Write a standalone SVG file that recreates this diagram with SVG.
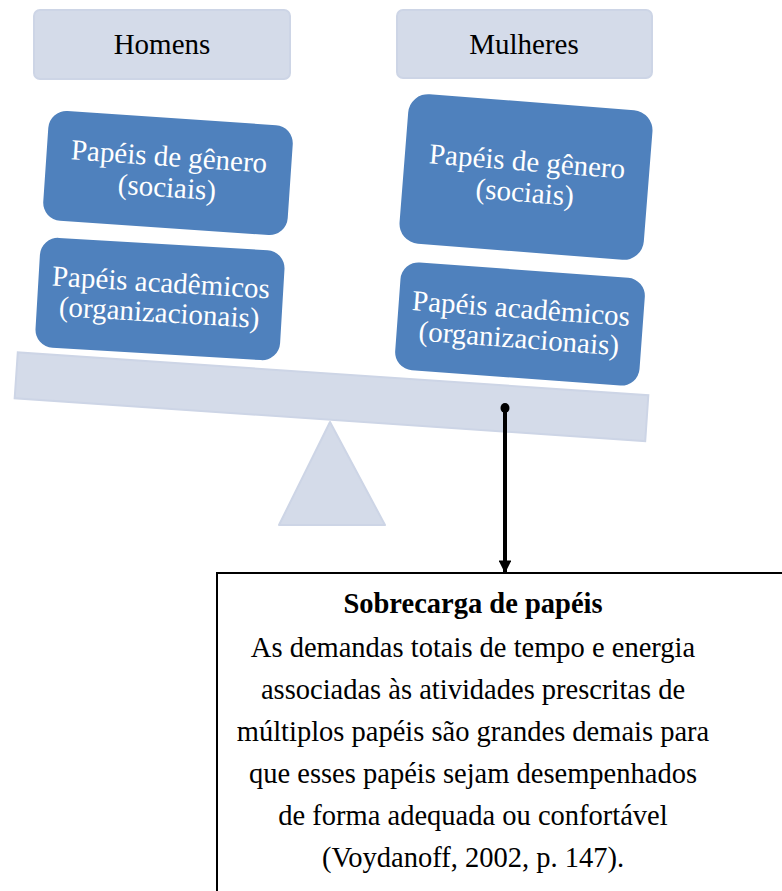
<svg xmlns="http://www.w3.org/2000/svg" width="782" height="891" viewBox="0 0 782 891">
<defs>
<style>
.light{fill:#d4dbe9;stroke:#cdd5e6;stroke-width:2}
.blue{fill:#4f81bd;stroke:none}
.wt{font-size:29px;fill:#ffffff;text-anchor:middle}
.bt{font-size:29px;fill:#000000;text-anchor:middle}
.body{font-size:28.5px;fill:#000000;text-anchor:middle}
</style>
<marker id="ah" viewBox="0 0 10 10" refX="9" refY="5" markerWidth="3.2" markerHeight="3.2" orient="auto" markerUnits="strokeWidth">
<path d="M0,0 L10,5 L0,10 z" fill="#000"/>
</marker>
</defs>
<rect width="782" height="891" fill="#ffffff"/>
<g font-family="Liberation Serif, Times New Roman, DejaVu Serif, serif">
<g id="homens">
<rect class="light" x="34" y="10" width="256" height="69" rx="6"/>
<text class="bt" x="162" y="54">Homens</text>
</g>
<g id="mulheres">
<rect class="light" x="397" y="10" width="255" height="68" rx="6"/>
<text class="bt" x="524" y="54">Mulheres</text>
</g>
<g id="beam">
<rect class="light" x="15.5" y="373.75" width="632" height="46" transform="rotate(3.9 331.5 396.75)"/>
</g>
<g id="fulcrum">
<path class="light" d="M330,422 L385,525 L279,525 Z" stroke-linejoin="round"/>
</g>
<g id="h-genero" transform="rotate(3.9 168 173)">
<rect class="blue" x="45.5" y="118" width="245" height="110" rx="18"/>
<text class="wt" x="168" y="166">Papéis de gênero</text>
<text class="wt" x="168" y="197">(sociais)</text>
</g>
<g id="h-academicos" transform="rotate(3.4 160 299)">
<rect class="blue" x="37.5" y="244" width="245" height="110" rx="18"/>
<text class="wt" x="160" y="292">Papéis acadêmicos</text>
<text class="wt" x="160" y="322">(organizacionais)</text>
</g>
<g id="m-genero" transform="rotate(4.5 526 177)">
<rect class="blue" x="403.5" y="102" width="245" height="150" rx="20"/>
<text class="wt" x="526" y="171">Papéis de gênero</text>
<text class="wt" x="526" y="202">(sociais)</text>
</g>
<g id="m-academicos" transform="rotate(4.2 520 324)">
<rect class="blue" x="397.5" y="270" width="245" height="108" rx="18"/>
<text class="wt" x="520" y="318">Papéis acadêmicos</text>
<text class="wt" x="520" y="348">(organizacionais)</text>
</g>
<g id="connectors">
<ellipse cx="505" cy="408" rx="4.5" ry="5" fill="#000"/>
<line x1="505" y1="408" x2="505" y2="572" stroke="#000" stroke-width="4" marker-end="url(#ah)"/>
</g>
<g id="sobrecarga">
<rect x="217" y="573" width="600" height="400" fill="#ffffff" stroke="#000" stroke-width="2"/>
<text class="body" x="473" y="613" font-weight="bold">Sobrecarga de papéis</text>
<text class="body" x="473" y="657">As demandas totais de tempo e energia</text>
<text class="body" x="473" y="699">associadas às atividades prescritas de</text>
<text class="body" x="473" y="741">múltiplos papéis são grandes demais para</text>
<text class="body" x="473" y="783">que esses papéis sejam desempenhados</text>
<text class="body" x="473" y="825">de forma adequada ou confortável</text>
<text class="body" x="473" y="867">(Voydanoff, 2002, p. 147).</text>
</g>
</g>
</svg>
